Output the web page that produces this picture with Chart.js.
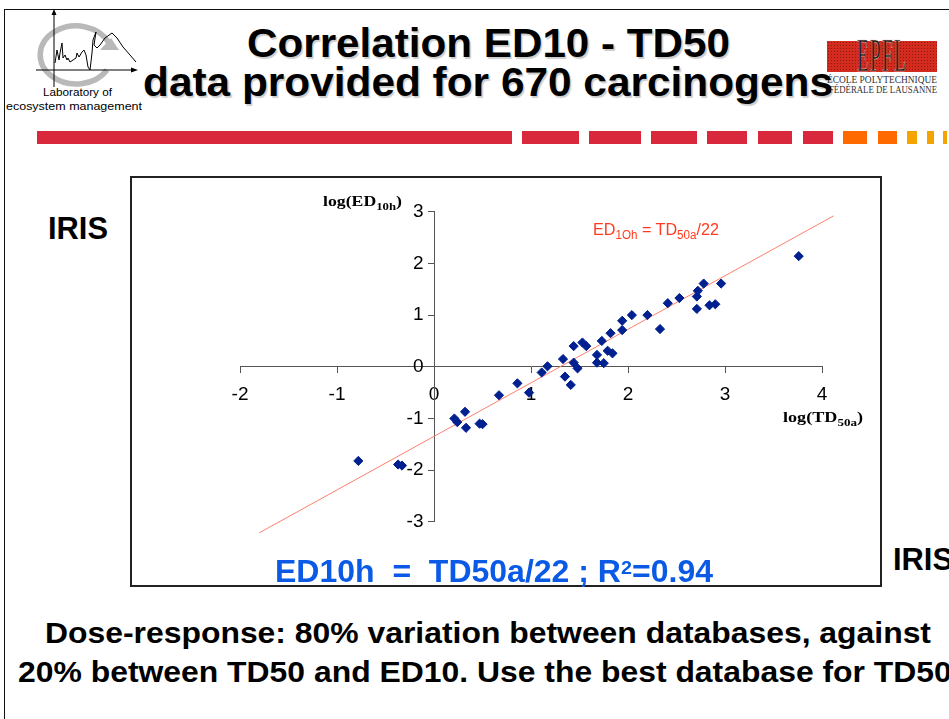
<!DOCTYPE html>
<html>
<head>
<meta charset="utf-8">
<title>Correlation ED10 - TD50</title>
<script src="https://cdn.jsdelivr.net/npm/chart.js@4.4.1/dist/chart.umd.min.js"></script>
<style>
  html, body { margin: 0; padding: 0; background: #fff; }
  body { width: 949px; height: 719px; overflow: hidden; position: relative; font-family: "Liberation Sans", Arial, sans-serif; color: #000; }
  .txt { position: absolute; white-space: pre; line-height: 1; transform-origin: 0 0; }
  .b { font-weight: bold; }
  .serif { font-family: "Liberation Serif", "Times New Roman", serif; }
  .sub { position: relative; top: 0.3em; font-size: 0.72em; line-height: 0; }
  .sup { position: relative; top: -0.42em; font-size: 0.62em; line-height: 0; }
  .shadow { text-shadow: 1.5px 1.5px 1px rgba(0, 0, 0, 0.2); }
  #slide-top { position: absolute; left: 5px; top: 9px; width: 944px; border-top: 1.5px solid #111; }
  #slide-left { position: absolute; left: 4px; top: 9px; height: 710px; border-left: 1.5px solid #111; }
  #frame { position: absolute; left: 130px; top: 176px; width: 752px; height: 411px; border: 2px solid #222; box-sizing: border-box; }
  #chart-box { position: absolute; left: 131px; top: 177px; width: 750px; height: 409px; }
  #epfl-box { position: absolute; left: 827px; top: 41px; width: 110px; height: 31px; overflow: hidden;
    background-color: #d42b1f;
    background-image: radial-gradient(rgba(90, 10, 5, 0.55) 0.6px, transparent 0.9px);
    background-size: 3px 3px; }
  #epfl-mark { position: absolute; left: 857px; top: 33px; font-size: 46px; line-height: 1; color: #111;
    font-family: "Liberation Serif", serif; transform-origin: 0 0; letter-spacing: 3px;
    -webkit-text-stroke: 0.6px #f4d0c8; }
  .bar { position: absolute; top: 131px; height: 13px; }
</style>
</head>
<body>
<div id="slide-top"></div>
<div id="slide-left"></div>

<svg id="lab-logo" width="150" height="92" style="position:absolute;left:0;top:0" viewBox="0 0 150 92">
  <path d="M 107 70 A 36 29 0 1 1 109 43" fill="none" stroke="#b9b9b9" stroke-width="5.5"/>
  <polygon points="100,50 119,50 111,38" fill="#b9b9b9"/>
  <line x1="54" y1="87" x2="54" y2="13" stroke="#000" stroke-width="1"/>
  <polygon points="51.5,15 56.5,15 54,9" fill="#000"/>
  <line x1="36" y1="70" x2="133" y2="70" stroke="#000" stroke-width="1"/>
  <polygon points="131,67.5 131,72.5 138,70" fill="#000"/>
  <polyline fill="none" stroke="#000" stroke-width="1"
    points="55,63 57,50 59,60 60,53 62,43 63,58 65,55 67,60 68,58 70,62 73,60 76,58 77,53 79,57 82,52 84,50 86,55 88,67 90,70 92,53 93,40 96,32 94,45 97,48 100,45 105,38 112,33 117,38 123,47 130,55 136,62"/>
</svg>
<div id="lab1" class="txt" style="font-size:11px">Laboratory of</div>
<div id="lab2" class="txt" style="font-size:11px">ecosystem management</div>

<div id="epfl-box"></div>
<div id="epfl-mark">EPFL</div>
<div id="epfl1" class="txt serif" style="font-size:9.5px;color:#333">ÉCOLE POLYTECHNIQUE</div>
<div id="epfl2" class="txt serif" style="font-size:9.5px;color:#333">FÉDÉRALE DE LAUSANNE</div>

<div id="title1" class="txt b shadow" style="font-size:40px">Correlation ED10 - TD50</div>
<div id="title2" class="txt b shadow" style="font-size:40px">data provided for 670 carcinogens</div>

<div id="bars"></div>

<div id="irisL" class="txt b" style="font-size:31px">IRIS</div>
<div id="irisR" class="txt b" style="font-size:31px">IRIS</div>

<div id="frame"></div>
<div id="chart-box"><canvas id="chart-corr" width="750" height="409"></canvas></div>

<div id="yTitle" class="txt serif b" style="font-size:15px">log(ED<span class="sub">10h</span>)</div>
<div id="xTitle" class="txt serif b" style="font-size:15px">log(TD<span class="sub">50a</span>)</div>
<div id="fitLabel" class="txt" style="font-size:17px;color:#ff3b1f">ED<span class="sub">1Oh</span> = TD<span class="sub">50a</span>/22</div>
<div id="blueNote" class="txt b" style="font-size:31px;color:#0a5ae6">ED10h  =  TD50a/22 ; R<span class="sup">2</span>=0.94</div>

<div id="bottom1" class="txt b" style="font-size:30px">Dose-response: 80% variation between databases, against</div>
<div id="bottom2" class="txt b" style="font-size:30px">20% between TD50 and ED10. Use the best database for TD50</div>

<script>
const palette = {
  navy: "#00208f",
  salmon: "#ff7f6e",
  axis: "#555555",
  red: "#d9283c",
  orange: "#ff6a00",
  amber: "#f5a300"
};

// log(TD50a) of the plotted carcinogens
const tdValues = [
  -0.78, -0.37, -0.33, 0.21, 0.24, 0.32, 0.33, 0.47, 0.50, 0.67, 0.86, 0.98,
  1.11, 1.17, 1.33, 1.35, 1.41, 1.44, 1.44, 1.48, 1.53, 1.57, 1.68, 1.68,
  1.73, 1.75, 1.79, 1.84, 1.82, 1.94, 1.94, 2.04, 2.20, 2.33, 2.41, 2.53,
  2.71, 2.72, 2.71, 2.78, 2.84, 2.90, 2.96, 3.76
];
// matching log(ED10h)
const edValues = [
  -1.82, -1.89, -1.91, -1.00, -1.07, -0.87, -1.18, -1.10, -1.11, -0.55, -0.32, -0.50,
  -0.11, 0.01, 0.15, -0.19, -0.35, 0.40, 0.08, -0.03, 0.47, 0.40, 0.23, 0.08,
  0.50, 0.07, 0.31, 0.26, 0.65, 0.89, 0.71, 1.00, 1.00, 0.73, 1.23, 1.33,
  1.36, 1.47, 1.12, 1.61, 1.19, 1.21, 1.61, 2.14
];
// regression line ED10h = TD50a/22, end points as drawn
const fitLineX = [-1.8, 4.12];
const fitLineY = [-3.21, 2.92];

const xRange = [-2, 4];
const yRange = [-3, 3];

// header strip segments [left, right] and colour
const barSegments = [
  [37, 512, "red"], [522, 579, "red"], [589, 641, "red"], [651, 697, "red"],
  [707, 747, "red"], [758, 792, "red"], [803, 833, "red"],
  [843, 867, "orange"], [878, 897, "orange"],
  [907, 917, "amber"], [927, 934, "amber"], [943, 947, "amber"]
];

function place(id, left, baseline, width, scale) {
  const el = document.getElementById(id);
  const size = parseFloat(getComputedStyle(el).fontSize);
  const ratio = el.classList.contains("serif") ? 0.8375 : 0.8465;
  el.style.left = left + "px";
  el.style.top = (baseline - ratio * size) + "px";
  const k = scale || width / el.getBoundingClientRect().width;
  el.style.transform = `scaleX(${k})`;
  return k;
}

function layoutSlide() {
  const bars = document.getElementById("bars");
  barSegments.forEach(([a, b, c]) => {
    const d = document.createElement("div");
    d.className = "bar";
    d.style.left = a + "px";
    d.style.width = (b - a) + "px";
    d.style.background = palette[c];
    bars.appendChild(d);
  });

  document.getElementById("epfl-mark").style.transform = "scaleX(0.42)";

  place("title1", 247, 57, 483);
  place("title2", 143, 96, 690);
  place("lab1", 43, 96.5, 69);
  place("lab2", 6, 110, 136);
  place("epfl1", 827, 83.5, 110);
  place("epfl2", 829, 93.5, 108);
  const irisK = place("irisL", 48, 239, 60);
  place("irisR", 893, 570, 0, irisK);
  place("yTitle", 323, 207, 79);
  place("xTitle", 783, 423, 80);
  place("fitLabel", 593, 235.7, 126);
  place("blueNote", 275, 582.5, 438);
  const k = place("bottom1", 45, 643, 886);
  place("bottom2", 18, 682, 0, k);
}

function renderCorrelation() {
  const ctx = document.getElementById("chart-corr");
  const tickFont = { family: "'Liberation Sans', Arial, sans-serif", size: 19 };

  new Chart(ctx, {
    type: "scatter",
    data: {
      datasets: [
        {
          label: "Carcinogens",
          data: tdValues.map((x, i) => ({ x, y: edValues[i] })),
          pointStyle: "rectRot",
          pointRadius: 4.6,
          pointBorderWidth: 1,
          pointBackgroundColor: palette.navy,
          pointBorderColor: palette.navy,
          order: 0
        },
        {
          label: "ED10h = TD50a/22",
          data: fitLineX.map((x, i) => ({ x, y: fitLineY[i] })),
          showLine: true,
          borderColor: palette.salmon,
          borderWidth: 1,
          pointRadius: 0,
          clip: false,
          order: 1
        }
      ]
    },
    options: {
      responsive: false,
      animation: false,
      events: [],
      layout: { padding: { left: 109, right: 59, top: 34.7, bottom: 64.1 } },
      plugins: {
        legend: { display: false },
        tooltip: { enabled: false }
      },
      scales: {
        x: {
          type: "linear",
          min: xRange[0],
          max: xRange[1],
          position: { y: 0 },
          border: { color: palette.axis, width: 1 },
          grid: { drawOnChartArea: false, drawTicks: true, tickLength: 6, color: palette.axis },
          ticks: { stepSize: 1, autoSkip: false, padding: 11, color: "#000", font: tickFont }
        },
        y: {
          type: "linear",
          min: yRange[0],
          max: yRange[1],
          position: { x: 0 },
          border: { color: palette.axis, width: 1 },
          grid: { drawOnChartArea: false, drawTicks: true, tickLength: 6, color: palette.axis },
          // labels on a value-positioned y axis sit right on the line, pad them out
          ticks: { stepSize: 1, autoSkip: false, color: "#000", font: tickFont, callback: (value) => `${value}  ` }
        }
      }
    }
  });
}

layoutSlide();
renderCorrelation();
</script>
</body>
</html>
